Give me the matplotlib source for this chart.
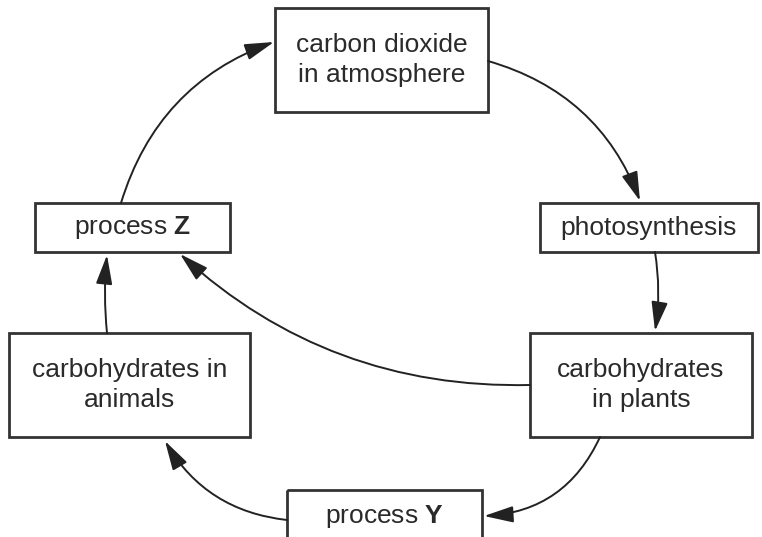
import matplotlib.pyplot as plt
from matplotlib.patches import Rectangle, FancyArrowPatch

plt.rcParams['font.family'] = ['Liberation Sans', 'DejaVu Sans']
plt.rcParams['mathtext.fontset'] = 'custom'
plt.rcParams['mathtext.bf'] = 'Liberation Sans:bold'

# box labels (mathtext bold for the process letters)
labels = ["carbon dioxide\nin atmosphere", "photosynthesis", "carbohydrates\nin plants",
          r"process $\mathbf{Y}$", "carbohydrates in\nanimals", r"process $\mathbf{Z}$"]
# box geometry in pixels: left, top, right, bottom
boxes = [(275, 8, 488, 112), (540, 203, 758, 252), (530, 333, 752, 437),
         (287, 490, 482, 545), (9, 333, 250, 437), (35, 203, 230, 252)]
# arrows: start, end, curvature
arrows = [((488, 61), (640, 201), -0.25),
          ((655, 252), (655, 331), -0.08),
          ((600, 437), (484, 516), -0.3),
          ((287, 520), (165, 441), -0.25),
          ((107, 333), (107, 255), -0.05),
          ((530, 385), (180, 254), -0.2),
          ((121, 203), (274, 42), -0.25)]

fig = plt.figure(figsize=(7.62, 5.37), dpi=100)
ax = fig.add_axes([0, 0, 1, 1])
ax.set_xlim(0, 762)
ax.set_ylim(537, 0)
ax.axis('off')

for lab, (x0, y0, x1, y1) in zip(labels, boxes):
    ax.add_patch(Rectangle((x0, y0), x1 - x0, y1 - y0, fill=False,
                           edgecolor='#333333', lw=2))
    yc = (y0 + y1) / 2
    if y1 > 537:
        yc = y0 + 26
    ax.text((x0 + x1) / 2, yc, lab, ha='center', va='center',
            fontsize=19, color='#2a2a2a', linespacing=1.3)

for (p0, p1, rad) in arrows:
    ax.add_patch(FancyArrowPatch(p0, p1, connectionstyle=f"arc3,rad={rad}",
                                 arrowstyle="-|>,head_length=1.5,head_width=0.42",
                                 mutation_scale=12, color='#222222', lw=1.4,
                                 shrinkA=0, shrinkB=0))

fig.savefig("out.png", dpi=100)
